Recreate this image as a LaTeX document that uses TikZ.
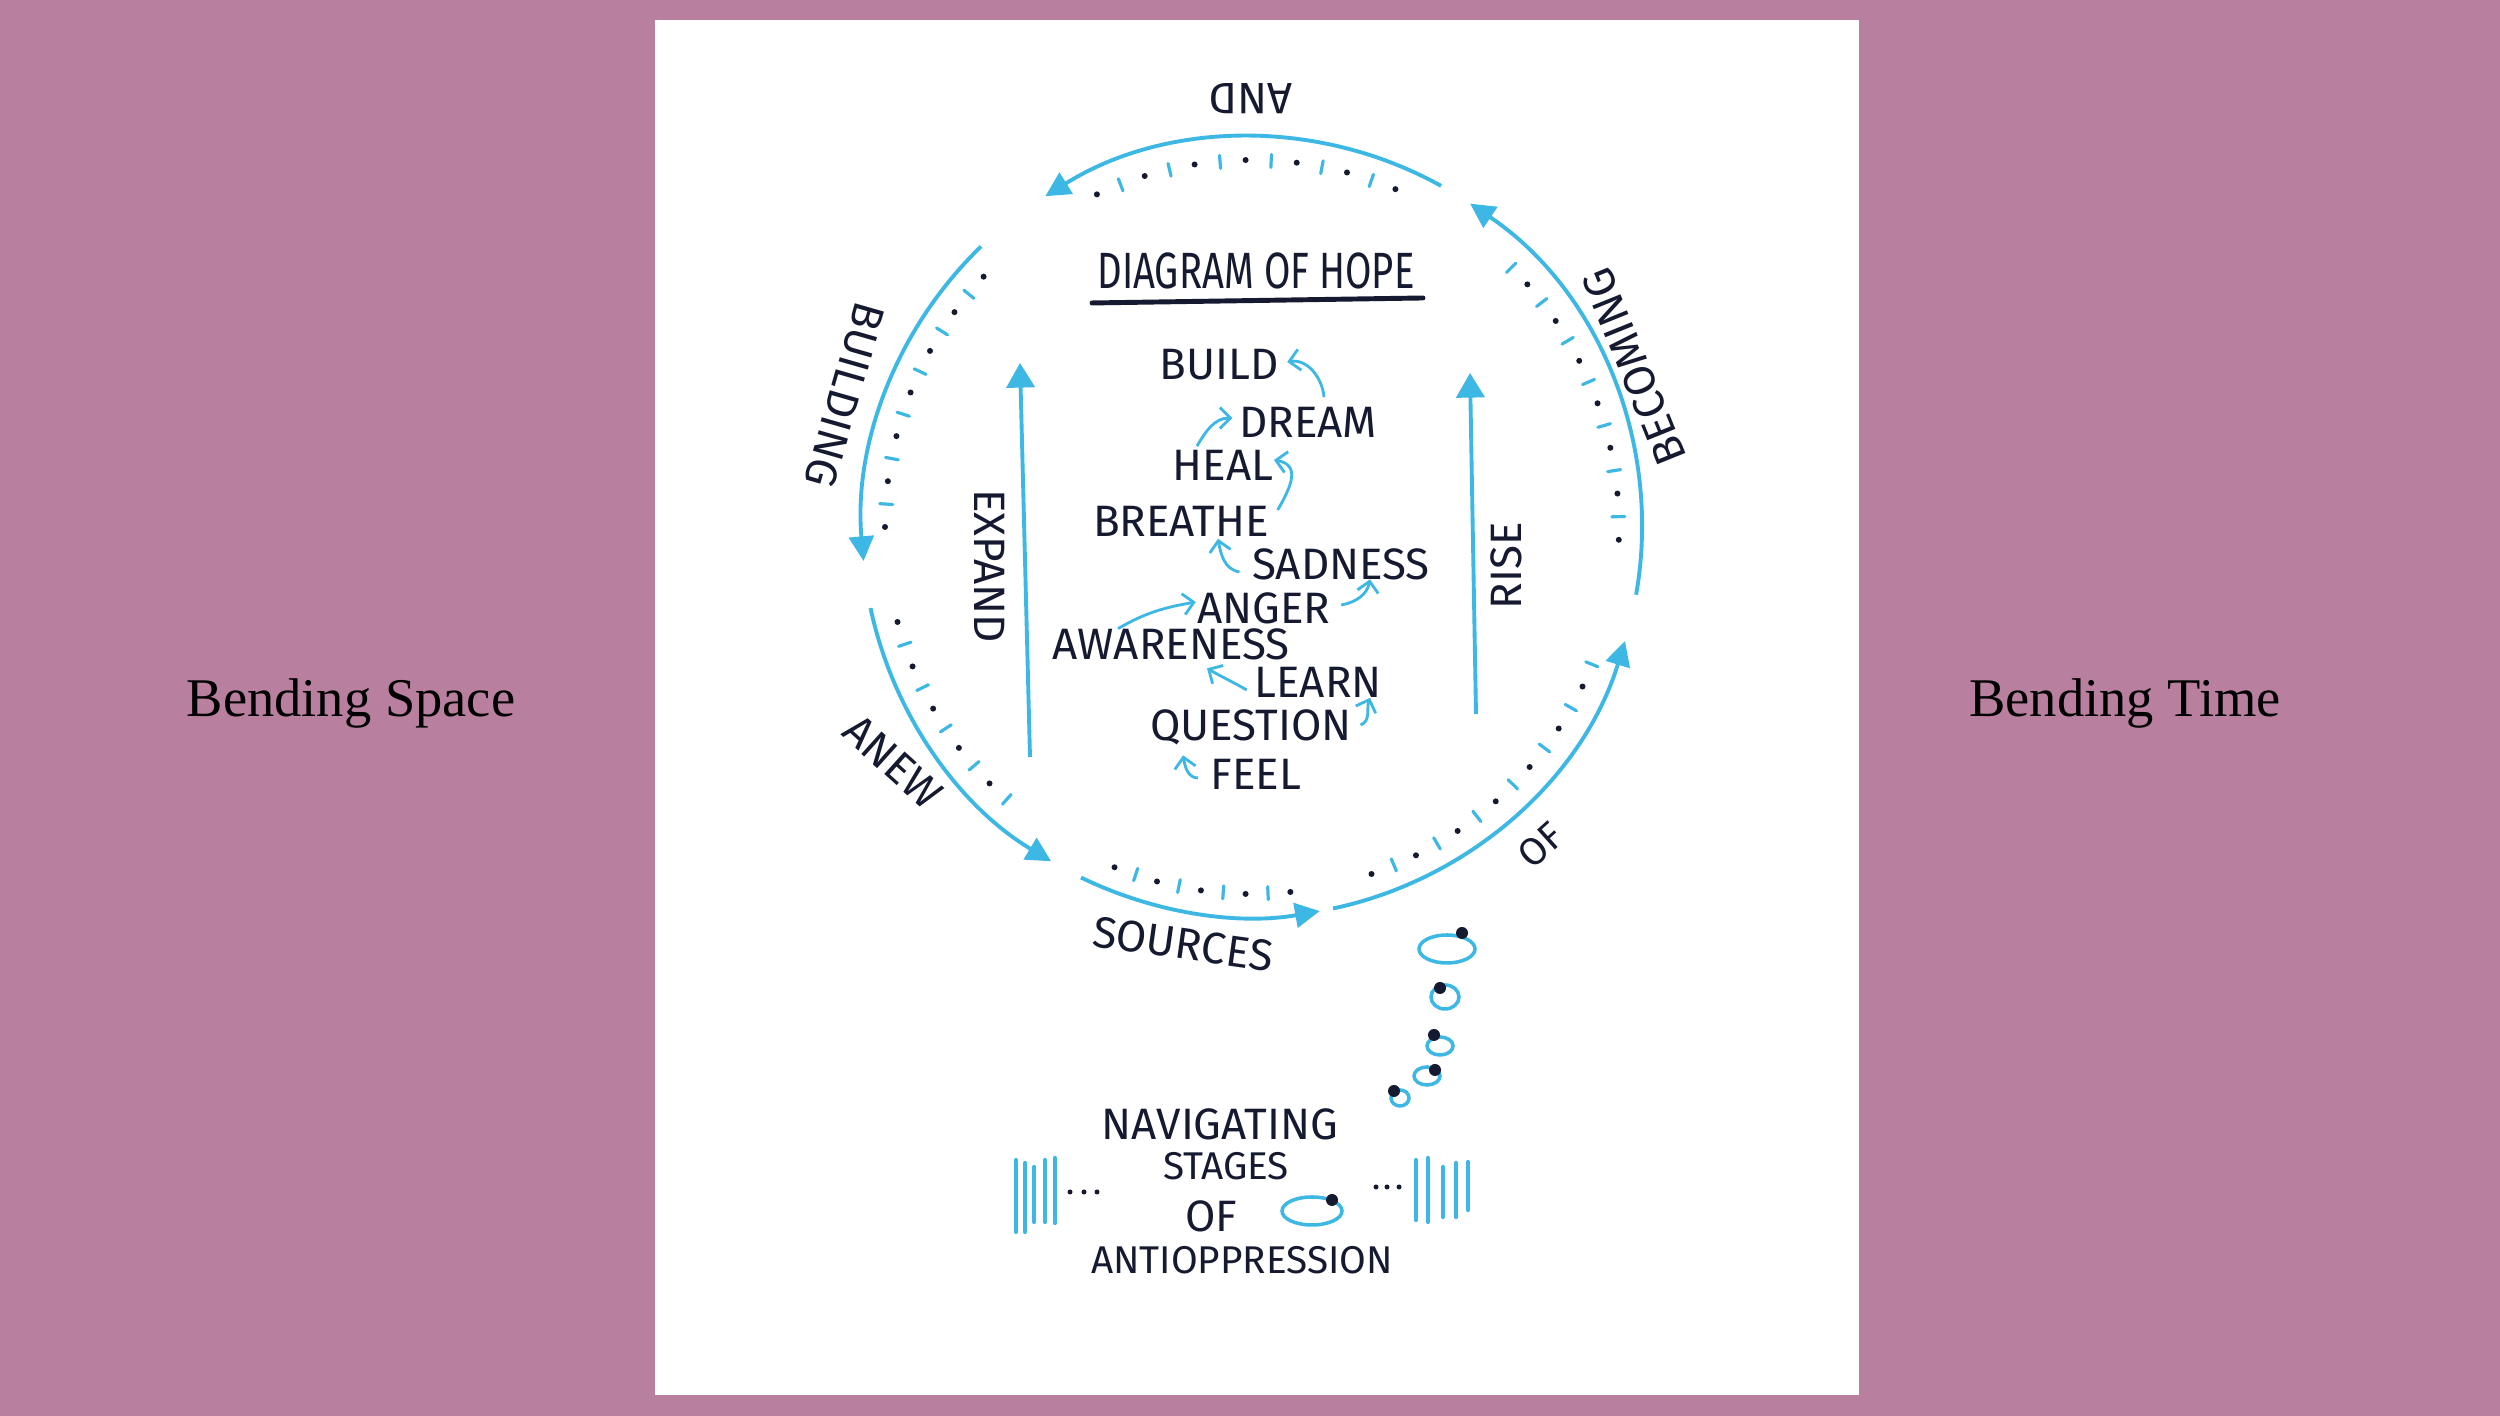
\documentclass[tikz,border=0pt]{standalone}
\usepackage{fontspec}
\usetikzlibrary{arrows.meta, positioning, calc}
\newfontfamily\serifa{Liberation Serif}
\newfontfamily\mano{Fira Sans}
\newfontfamily\manoc[FakeStretch=0.75]{Fira Sans}
\definecolor{fondo}{HTML}{B97F9F}
\definecolor{azulito}{HTML}{3DB7E4}
\definecolor{tinta}{HTML}{161A30}
\tikzset{
  palabra/.style={font=\mano\fontsize{12.5}{14}\selectfont, text=tinta, inner sep=0pt},
  palabrita/.style={palabra, font=\mano\fontsize{11}{13}\selectfont},
  titulo/.style={font=\manoc\fontsize{14.5}{16}\selectfont, text=tinta, inner sep=0pt},
  rotulo/.style={font=\serifa\fontsize{15.5}{18}\selectfont, text=black, inner sep=0pt},
  arco/.style={azulito, line width=1.1pt, -{Triangle[length=7pt, width=7pt]}},
  flecha/.style={azulito, line width=1.1pt, -{Triangle[length=7pt, width=8pt]}},
  flechita/.style={azulito, line width=0.8pt, -{Straight Barb[length=3pt, width=6pt]}},
  marca/.style={azulito, line width=0.9pt, line cap=round},
  raya/.style={azulito, line width=1.2pt, line cap=round},
  globo/.style={draw=azulito, line width=1pt}
}
\begin{document}
\begin{tikzpicture}[x=0.01cm, y=0.01cm]
  \useasboundingbox (0,0) rectangle (2500,1416);
  \fill[fondo] (0,0) rectangle (2500,1416);
  \fill[white] (655,21) rectangle (1859,1396);
  % rotulos laterales
  \node (espacio) [rotulo, anchor=base] at (351,699) {Bending Space};
  \node (tiempo) [rotulo, anchor=base] at (2125,699) {Bending Time};
  % circulo de arcos
  \coordinate (c) at (1252,889);
  \foreach \a/\b in {134/185, 192/239, 244/280, 282/343, -10/56, 61/122}
    \draw[arco] ($(c)+(\a:390)$) arc[start angle=\a, end angle=\b, radius=390];
  \foreach \ini/\fin/\num in {67/115/12, 137/180/12, 195/228/9, 248/276/8, 289/338/13, -2/45/13}
    \foreach \k in {0,...,\num} {
      \pgfmathsetmacro\ang{\ini+\k*(\fin-\ini)/\num}
      \ifodd\k\relax \draw[marca] ($(c)+(\ang:360)$) -- ($(c)+(\ang:373)$);
      \else \fill[tinta] ($(c)+(\ang:367)$) circle (3); \fi
    }
  \node (and) [palabra, rotate=180] at (1251,1317) {AND};
  \node (becoming) [palabra, rotate=112] at (1634,1049) {BECOMING};
  \node (building) [palabra, rotate=254] at (845,1021) {BUILDING};
  \node (anew) [palabra, rotate=-42] at (893,654) {ANEW};
  \node (sources) [palabra, rotate=-8] at (1183,472) {SOURCES};
  \node (of) [palabrita, rotate=42] at (1541,571) {OF};
  % titulo
  \node (titulo) [titulo] at (1256,1145) {DIAGRAM OF HOPE};
  \draw[tinta, line width=1.4pt, line cap=round] (1092,1113) -- (1423,1118);
  % flechas largas
  \coordinate (expand0) at (1030,659); \coordinate (expand1) at (1020,1053);
  \coordinate (rise0) at (1476,702); \coordinate (rise1) at (1470,1043);
  \draw[flecha] (expand0) -- (expand1);
  \draw[flecha] (rise0) -- (rise1);
  \node (expand) [palabra, rotate=-90] at (990,850) {EXPAND};
  \node (rise) [palabra, rotate=90] at (1506,850) {RISE};
  % escalera de palabras
  \node (build) [palabra] at (1219,1051) {BUILD};
  \node (dream) [palabra] at (1308,994) {DREAM};
  \node (heal) [palabra] at (1223,951) {HEAL};
  \node (breathe) [palabra] at (1181,895) {BREATHE};
  \node (sadness) [palabra] at (1341,852) {SADNESS};
  \node (anger) [palabra] at (1264,808) {ANGER};
  \node (awareness) [palabra] at (1171,772) {AWARENESS};
  \node (learn) [palabra] at (1318,734) {LEARN};
  \node (question) [palabra] at (1251,689) {QUESTION};
  \node (feel) [palabra] at (1256,642) {FEEL};
  \draw[flechita] ($(dream.north)+(16,9)$) to[out=95, in=10] ($(build.east)+(8,3)$);
  \draw[flechita] ($(heal.north)+(-26,3)$) to[out=60, in=180] ($(dream.west)+(-6,4)$);
  \draw[flechita] ($(breathe.east)+(8,11)$) to[out=60, in=-10, looseness=1.4] ($(heal.east)+(0,5)$);
  \draw[flechita] ($(sadness.west)+(-12,-8)$) to[out=170, in=-80] ($(breathe.south)+(37,-2)$);
  \draw[flechita] ($(awareness.north)+(-53,-1)$) to[out=30, in=190] ($(anger.west)+(-1,6)$);
  \draw[flechita] ($(anger.east)+(10,3)$) to[out=10, in=-100] ($(sadness.south)+(29,1)$);
  \draw[flechita] ($(learn.west)+(-7,-8)$) to[out=150, in=-30] ($(awareness.south)+(36,-8)$);
  \draw[flechita] ($(question.east)+(8,2)$) to[out=20, in=-110] ($(learn.south)+(52,0)$);
  \draw[flechita] ($(feel.west)+(-12,-4)$) to[out=180, in=-80] ($(question.south)+(-68,-10)$);
  % globos
  \foreach \x/\y/\rx/\ry/\px/\py in {1447/467/28/14/1462/483, 1445/419/14/12/1440/428,
      1440/370/13/9/1434/381, 1427/340/13/9/1435/346, 1400/318/9/8/1394/325, 1312/205/30/14/1332/216} {
    \draw[globo] (\x,\y) ellipse[x radius=\rx, y radius=\ry];
    \fill[tinta] (\px,\py) circle (6);
  }
  % texto inferior
  \node (navigating) [palabra] at (1220,292) {NAVIGATING};
  \node (stages) [palabrita] at (1226,250) {STAGES};
  \node (ofb) [palabra] at (1211,200) {OF};
  \node (antiop) [palabrita] at (1242,156) {ANTIOPPRESSION};
  % rayas
  \foreach \x/\a/\b in {1016/256/184, 1025/253/184, 1034/249/194, 1045/256/194, 1055/258/193,
      1416/256/196, 1428/258/194, 1443/249/199, 1456/253/199, 1468/254/206}
    \draw[raya] (\x,\a) -- (\x,\b);
  \foreach \x/\y in {1070/224, 1084/224, 1097/224, 1376/229, 1387/229, 1399/229}
    \fill[tinta] (\x,\y) circle (2.5);
\end{tikzpicture}
\end{document}
